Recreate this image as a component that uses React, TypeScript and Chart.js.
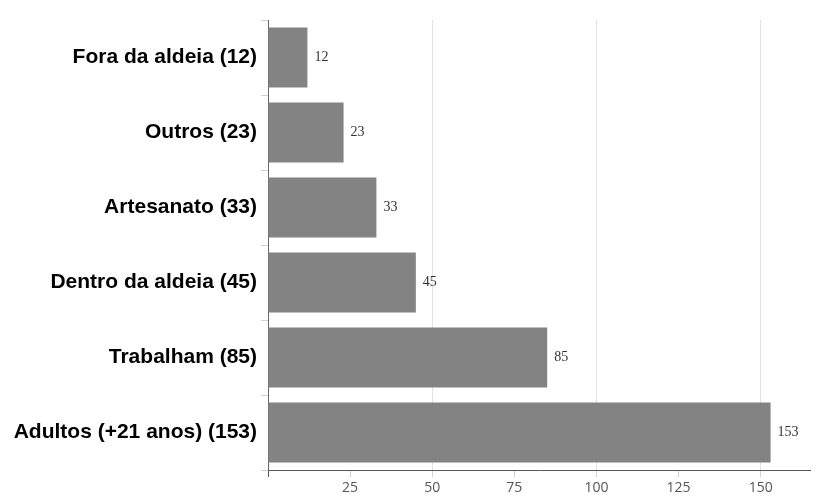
import React, { useEffect, useRef } from "react";
import { Chart, registerables } from "chart.js";

Chart.register(...registerables);

const categories = [
  "Fora da aldeia (12)",
  "Outros (23)",
  "Artesanato (33)",
  "Dentro da aldeia (45)",
  "Trabalham (85)",
  "Adultos (+21 anos) (153)",
];
const values = [12, 23, 33, 45, 85, 153];
const xMax = 165;
const xStep = 25;

const valueLabels = {
  id: "valueLabels",
  afterDatasetsDraw(chart: any) {
    const ctx = chart.ctx;
    const meta = chart.getDatasetMeta(0);
    ctx.save();
    ctx.font = '14px "Liberation Serif", serif';
    ctx.fillStyle = "#333";
    ctx.textAlign = "left";
    ctx.textBaseline = "middle";
    meta.data.forEach((bar: any, i: number) => {
      ctx.fillText(String(values[i]), bar.x + 7, bar.y);
    });
    ctx.restore();
  },
};

export default function App() {
  const ref = useRef<HTMLCanvasElement | null>(null);
  useEffect(() => {
    document.body.style.margin = "0";
    Chart.defaults.font.family = "'Open Sans', sans-serif";
    Chart.defaults.font.size = 14;
    const chart = new Chart(ref.current as HTMLCanvasElement, {
      type: "bar",
      data: {
        labels: categories,
        datasets: [
          {
            data: values,
            backgroundColor: "#838383",
            borderWidth: 0,
            barPercentage: 0.8,
            categoryPercentage: 1,
          },
        ],
      },
      options: {
        indexAxis: "y",
        responsive: false,
        animation: false,
        font: { family: "'Open Sans', sans-serif", size: 14 },
        layout: { padding: { top: 20, right: 7, bottom: 0, left: 0 } },
        plugins: { legend: { display: false }, tooltip: { enabled: false } },
        scales: {
          x: {
            type: "linear",
            min: 0,
            max: xMax,
            afterFit(scale: any) {
              scale.height = 32;
            },
            afterBuildTicks(scale: any) {
              scale.ticks = scale.ticks.filter((t: any) => t.value % xStep === 0);
            },
            border: { color: "#555", width: 1 },
            grid: {
              color: (c: any) =>
                c.tick && c.tick.value > 0 && c.tick.value % 50 === 0 ? "#e3e3e3" : "rgba(0,0,0,0)",
              tickColor: (c: any) => (c.tick && c.tick.value === 0 ? "#555" : "#d0d0d0"),
              tickLength: 7,
            },
            ticks: {
              stepSize: xStep,
              padding: 3,
              color: "#555",
              font: { family: "'Open Sans', sans-serif", size: 14 },
              callback: (v: any) => (v === 0 ? "" : String(v)),
            },
          },
          y: {
            afterFit(scale: any) {
              scale.width = 268;
            },
            border: { color: "#666", width: 1 },
            grid: {
              drawOnChartArea: false,
              tickLength: 7,
              color: "#cfcfcf",
            },
            ticks: {
              padding: 4,
              color: "#000",
              font: { family: "'Liberation Sans', Arial, sans-serif", size: 21, weight: "bold" },
            },
          },
        },
      },
      plugins: [valueLabels],
    });
    return () => chart.destroy();
  }, []);
  return (
    <div style={{ width: 817, height: 502 }}>
      <canvas ref={ref} width={817} height={502} />
    </div>
  );
}
